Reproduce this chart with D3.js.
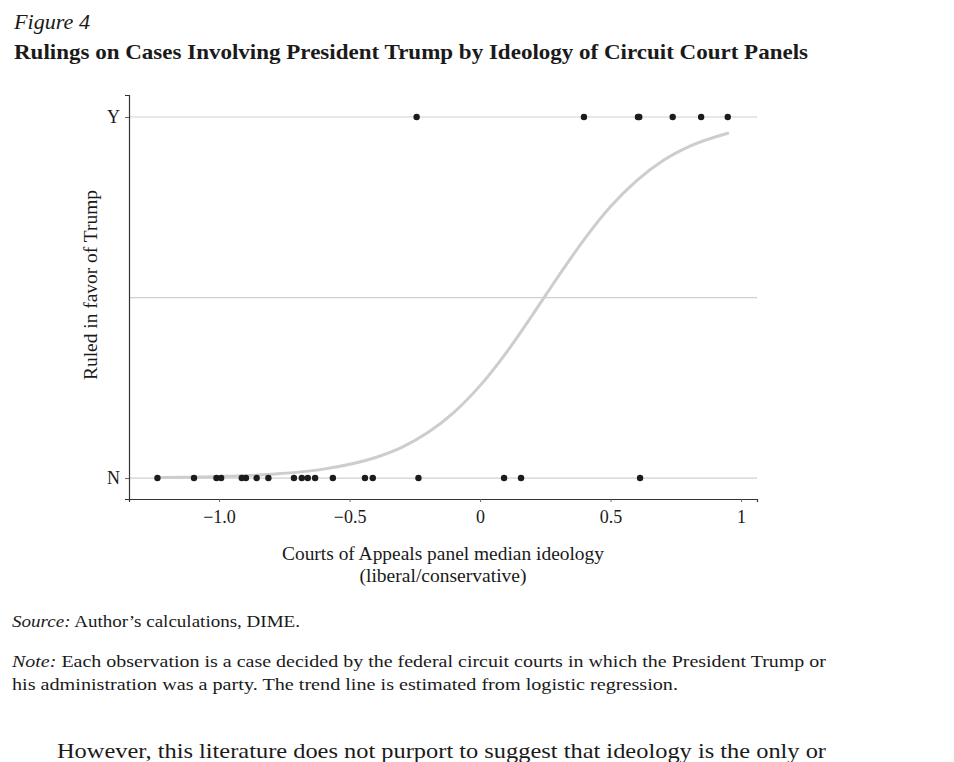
<!DOCTYPE html>
<html>
<head>
<meta charset="utf-8">
<script src="https://cdn.jsdelivr.net/npm/d3@7"></script>
<style>
  body { margin: 0; background: #fff; }
  text, tspan { font-family: "Liberation Serif", "DejaVu Serif", serif; fill: #1a1a1a; }
</style>
</head>
<body>
<div class="chart"></div>
<script>
// panel median ideology of cases the administration lost (N) / won (Y)
var ruledNo = [-1.236, -1.096, -1.010, -0.992, -0.913, -0.897, -0.856, -0.811, -0.713, -0.683,
  -0.660, -0.632, -0.564, -0.441, -0.411, -0.236, 0.092, 0.157, 0.613];
var ruledYes = [-0.243, 0.398, 0.605, 0.610, 0.738, 0.847, 0.949];

// logistic trend line
var trendX = [-1.236, -1.0, -0.8, -0.6, -0.4, -0.3, -0.2, -0.1, 0, 0.1, 0.2, 0.3, 0.4, 0.5, 0.6, 0.7, 0.8, 0.949];
var trendP = [0.0016, 0.0044, 0.0105, 0.0247, 0.057, 0.085, 0.126, 0.182, 0.256, 0.347, 0.451, 0.559, 0.662, 0.752, 0.824, 0.879, 0.918, 0.955];

var xTicks = [-1, -0.5, 0, 0.5, 1];
var xTickLabels = ['\u22121.0', '\u22120.5', '0', '0.5', '1'];
var yTicks = [0, 1];
var yTickLabels = ['N', 'Y'];
var gridLevels = [0, 0.5, 1];

var svg = d3.select('.chart')
  .append('svg')
  .attr('width', 954)
  .attr('height', 762);

var xScale = d3.scaleLinear()
  .domain([-1.345, 1.061])
  .range([129, 757]);

var yScale = d3.scaleLinear()
  .domain([-0.058, 1.061])
  .range([499, 95]);

// fit a line of text to the width it has in the figure
function fit(sel, w) {
  sel.attr('textLength', w).attr('lengthAdjust', 'spacingAndGlyphs');
  return sel;
}

// heading
fit(svg.append('text')
  .attr('x', 14).attr('y', 29)
  .style('font-style', 'italic')
  .style('font-size', '21px')
  .text('Figure 4'), 76);

fit(svg.append('text')
  .attr('x', 14).attr('y', 59)
  .style('font-weight', 'bold')
  .style('font-size', '21px')
  .text('Rulings on Cases Involving President Trump by Ideology of Circuit Court Panels'), 794);

// grid lines
svg.selectAll('.grid')
  .data(gridLevels)
  .enter()
  .append('line')
  .attr('class', 'grid')
  .attr('x1', xScale.range()[0])
  .attr('x2', xScale.range()[1])
  .attr('y1', d => yScale(d))
  .attr('y2', d => yScale(d))
  .style('stroke', '#d0d0d0')
  .style('stroke-width', 1.2);

// axes
var xAxis = svg.append('g')
  .attr('transform', 'translate(0,' + yScale.range()[0] + ')')
  .call(d3.axisBottom(xScale)
    .tickValues(xTicks)
    .tickSize(3)
    .tickPadding(8)
    .tickFormat((d, i) => xTickLabels[i]));

var yAxis = svg.append('g')
  .attr('transform', 'translate(' + xScale.range()[0] + ',0)')
  .call(d3.axisLeft(yScale)
    .tickValues(yTicks)
    .tickSize(4)
    .tickPadding(5)
    .tickFormat((d, i) => yTickLabels[i]));

[xAxis, yAxis].forEach(g => {
  g.select('.domain').style('stroke', '#333').style('stroke-width', 1.2);
  g.selectAll('.tick line').style('stroke', '#666');
  g.selectAll('.tick text')
    .style('font-family', '"Liberation Serif", serif')
    .style('font-size', '18px')
    .style('fill', '#1a1a1a');
});

// axis titles
fit(svg.append('text')
  .attr('transform', 'translate(97,285) rotate(-90)')
  .style('text-anchor', 'middle')
  .style('font-size', '18px')
  .text('Ruled in favor of Trump'), 190);

fit(svg.append('text')
  .attr('x', 443).attr('y', 560)
  .style('text-anchor', 'middle')
  .style('font-size', '18px')
  .text('Courts of Appeals panel median ideology'), 322);

fit(svg.append('text')
  .attr('x', 443).attr('y', 582)
  .style('text-anchor', 'middle')
  .style('font-size', '18px')
  .text('(liberal/conservative)'), 167);

// trend line
var line = d3.line()
  .x((d, i) => xScale(d))
  .y((d, i) => yScale(trendP[i]))
  .curve(d3.curveMonotoneX);

svg.append('path')
  .attr('d', line(trendX))
  .style('fill', 'none')
  .style('stroke', '#cdcdcd')
  .style('stroke-width', 3)
  .style('stroke-linecap', 'round');

// observations
var points = ruledNo.map(d => ({ x: d, y: 0 }))
  .concat(ruledYes.map(d => ({ x: d, y: 1 })));

svg.selectAll('.dot')
  .data(points)
  .enter()
  .append('circle')
  .attr('class', 'dot')
  .attr('cx', d => xScale(d.x))
  .attr('cy', d => yScale(d.y))
  .attr('r', 3.2)
  .style('fill', '#1c1c1c');

// source and note
var src = svg.append('text').attr('x', 12).attr('y', 627).style('font-size', '17px');
src.append('tspan').style('font-style', 'italic').text('Source:');
src.append('tspan').text(' Author\u2019s calculations, DIME.');
fit(src, 288);

var note1 = svg.append('text').attr('x', 12).attr('y', 667).style('font-size', '17px');
note1.append('tspan').style('font-style', 'italic').text('Note:');
note1.append('tspan').text(' Each observation is a case decided by the federal circuit courts in which the President Trump or');
fit(note1, 814);

fit(svg.append('text')
  .attr('x', 12).attr('y', 690)
  .style('font-size', '17px')
  .text('his administration was a party. The trend line is estimated from logistic regression.'), 666);

fit(svg.append('text')
  .attr('x', 57).attr('y', 758)
  .style('font-size', '22px')
  .text('However, this literature does not purport to suggest that ideology is the only or'), 769);
</script>
</body>
</html>
